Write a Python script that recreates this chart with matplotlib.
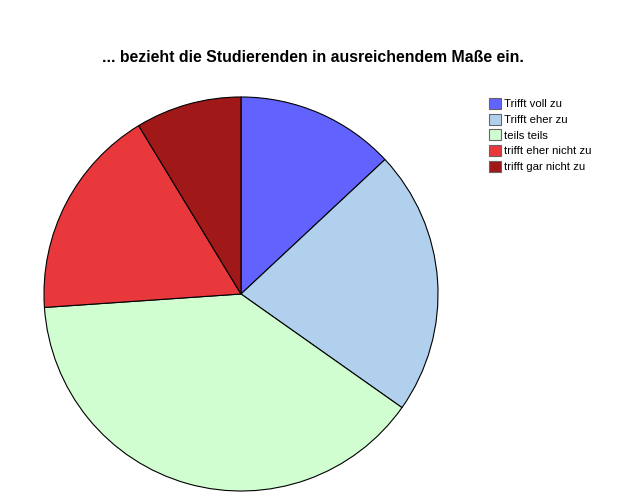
import matplotlib
matplotlib.use("Agg")
import matplotlib.pyplot as plt
from matplotlib.patches import Patch

categories = ["Trifft voll zu", "Trifft eher zu", "teils teils", "trifft eher nicht zu", "trifft gar nicht zu"]
counts = [3, 5, 9, 4, 2]
colors = ["#6262FE", "#B0D0EE", "#D0FED0", "#E8383C", "#A01818"]
title = "... bezieht die Studierenden in ausreichendem Maße ein."

plt.rcParams['font.family'] = ['Liberation Sans', 'DejaVu Sans']

W, H = 624, 501
fig = plt.figure(figsize=(W/100, H/100), dpi=100)
cx, cy, r = 241, 294, 198
ax = fig.add_axes([(cx - r)/W, (H - cy - r)/H, 2*r/W, 2*r/H])
ax.pie(counts, colors=colors, startangle=90, counterclock=False,
       wedgeprops=dict(edgecolor="black", linewidth=0.8), radius=1.0)
ax.set_xlim(-1.005, 1.005)
ax.set_ylim(-1.005, 1.005)
ax.set_aspect('equal')
ax.axis('off')

fig.text(313/W, 1 - 58/H, title, ha='center', va='center', fontsize=11.4, fontweight='bold')

handles = [Patch(facecolor=c, edgecolor='#666666', linewidth=0.8) for c in colors]
fig.legend(handles, categories, loc='upper left', bbox_to_anchor=(489/W, 1 - 98/H),
           frameon=False, fontsize=8.2, handlelength=1.05, handleheight=1.1,
           handletextpad=0.25, labelspacing=0.38, borderpad=0, borderaxespad=0)

fig.savefig("out.png", dpi=100)
